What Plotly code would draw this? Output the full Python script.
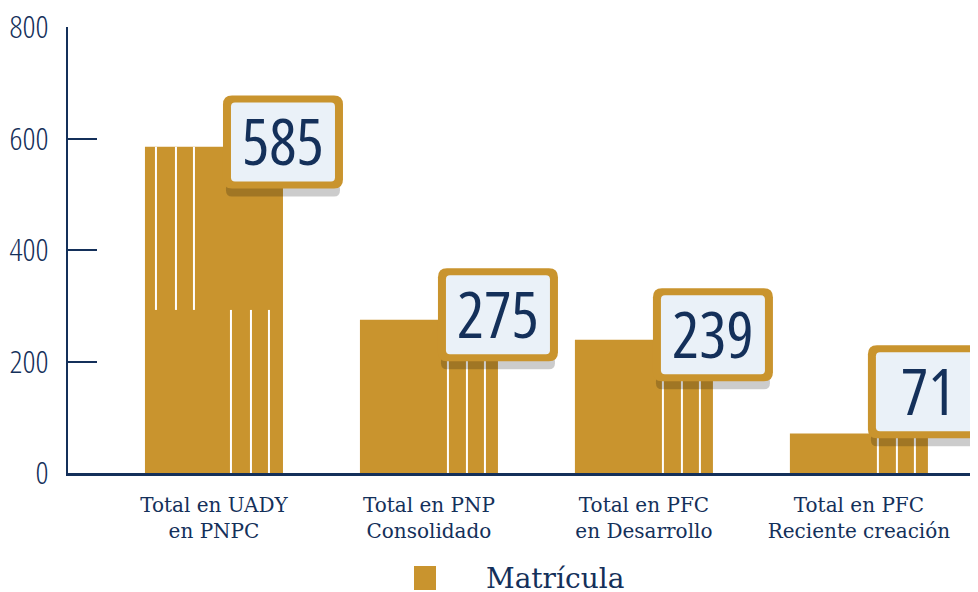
import plotly.graph_objects as go

categories = ["Total en UADY<br>en PNPC", "Total en PNP<br>Consolidado",
              "Total en PFC<br>en Desarrollo", "Total en PFC<br>Reciente creación"]
values = [585, 275, 239, 71]
series_name = "Matrícula"
y_ticks = [0, 200, 400, 600, 800]

GOLD = "#C9942E"
NAVY = "#14305A"
BOX_FILL = "#EAF1F8"
BAR_W = 0.642
NARROW = "font-family:'Open Sans';font-stretch:75%;font-weight:{w}"

x_idx = list(range(len(categories)))

fig = go.Figure()
fig.add_trace(go.Bar(x=x_idx, y=values, width=BAR_W, marker=dict(color=GOLD, line=dict(width=0)),
                     name=series_name, showlegend=False, hoverinfo="skip"))

shapes = []

def vline(i, off_px, y0, y1):
    shapes.append(dict(type="line", xref="x", yref="y", xsizemode="pixel",
                       xanchor=i - BAR_W / 2, x0=off_px, x1=off_px, y0=y0, y1=y1,
                       line=dict(color="white", width=2), layer="above"))

for i, v in enumerate(values):
    if i == 0:
        for off in (11, 31, 49):
            vline(i, off, v / 2, v)
        for off in (86, 106, 124):
            vline(i, off, 0, v / 2)
    else:
        for off in (88, 107, 125):
            vline(i, off, 0, v)

def rr(x0, y0, x1, y1, r):
    return (f"M{x0+r},{y0} L{x1-r},{y0} Q{x1},{y0} {x1},{y0+r} L{x1},{y1-r} "
            f"Q{x1},{y1} {x1-r},{y1} L{x0+r},{y1} Q{x0},{y1} {x0},{y1-r} "
            f"L{x0},{y0+r} Q{x0},{y0} {x0+r},{y0} Z")

annotations = []
for i, v in enumerate(values):
    xa = i + BAR_W / 2
    ya = max(v + 8, 145)
    common = dict(type="path", xref="x", yref="y", xsizemode="pixel", ysizemode="pixel",
                  xanchor=xa, yanchor=ya, layer="above")
    shapes.append(dict(common, path=rr(-57, -54, 57, -40, 6),
                       fillcolor="rgba(0,0,0,0.2)", line=dict(width=0)))
    shapes.append(dict(common, path=rr(-60, -46, 60, 47, 9),
                       fillcolor=GOLD, line=dict(width=0)))
    shapes.append(dict(common, path=rr(-52, -39, 52, 40, 4),
                       fillcolor=BOX_FILL, line=dict(width=0)))
    annotations.append(dict(x=xa, y=ya, xref="x", yref="y",
                            text=f"<span style=\"{NARROW.format(w=400)}\">{v}</span>", showarrow=False,
                            font=dict(family="Open Sans, sans-serif", size=64, color=NAVY), yshift=2))

# small end mark at the right end of the x axis
shapes.append(dict(type="line", xref="paper", yref="y", ysizemode="pixel", yanchor=0,
                   x0=0.9985, x1=0.9985, y0=0, y1=13, line=dict(color=NAVY, width=2)))

# legend (drawn in paper space)
shapes.append(dict(type="rect", xref="paper", yref="paper",
                   x0=(414 - 68) / 907, x1=(436 - 68) / 907,
                   y0=-(590 - 473) / 446, y1=-(566 - 473) / 446,
                   fillcolor=GOLD, line=dict(width=0)))
annotations.append(dict(x=(484 - 68) / 907, y=-(578 - 473) / 446, xref="paper", yref="paper",
                        xanchor="left", yanchor="middle", text=series_name, showarrow=False,
                        font=dict(family="DejaVu Serif, serif", size=28, color=NAVY)))

fig.update_layout(
    width=970, height=584,
    margin=dict(l=60, r=3, t=19, b=119),
    plot_bgcolor="white", paper_bgcolor="white",
    shapes=shapes, annotations=annotations,
    showlegend=False,
    xaxis=dict(range=[-0.679, 3.54], tickmode="array", tickvals=x_idx, ticktext=categories,
               showline=True, linecolor=NAVY, linewidth=3, ticks="", showgrid=False,
               zeroline=False, fixedrange=True, automargin=False, ticklabelstandoff=12,
               tickfont=dict(family="DejaVu Serif, serif", size=20, color=NAVY)),
    yaxis=dict(range=[0, 800], tickmode="array", tickvals=y_ticks,
               ticktext=[f"<span style=\"{NARROW.format(w=300)}\">{t}</span>" for t in y_ticks],
               showline=True, linecolor=NAVY, linewidth=2, ticks="inside", ticklen=29,
               tickcolor=NAVY, tickwidth=2, showgrid=False, zeroline=False,
               automargin=False, ticklabelstandoff=11, ticklabeloverflow="allow",
               tickfont=dict(family="Open Sans, sans-serif", size=32, color=NAVY)),
    bargap=0.3,
)

fig.write_html("out.html")
